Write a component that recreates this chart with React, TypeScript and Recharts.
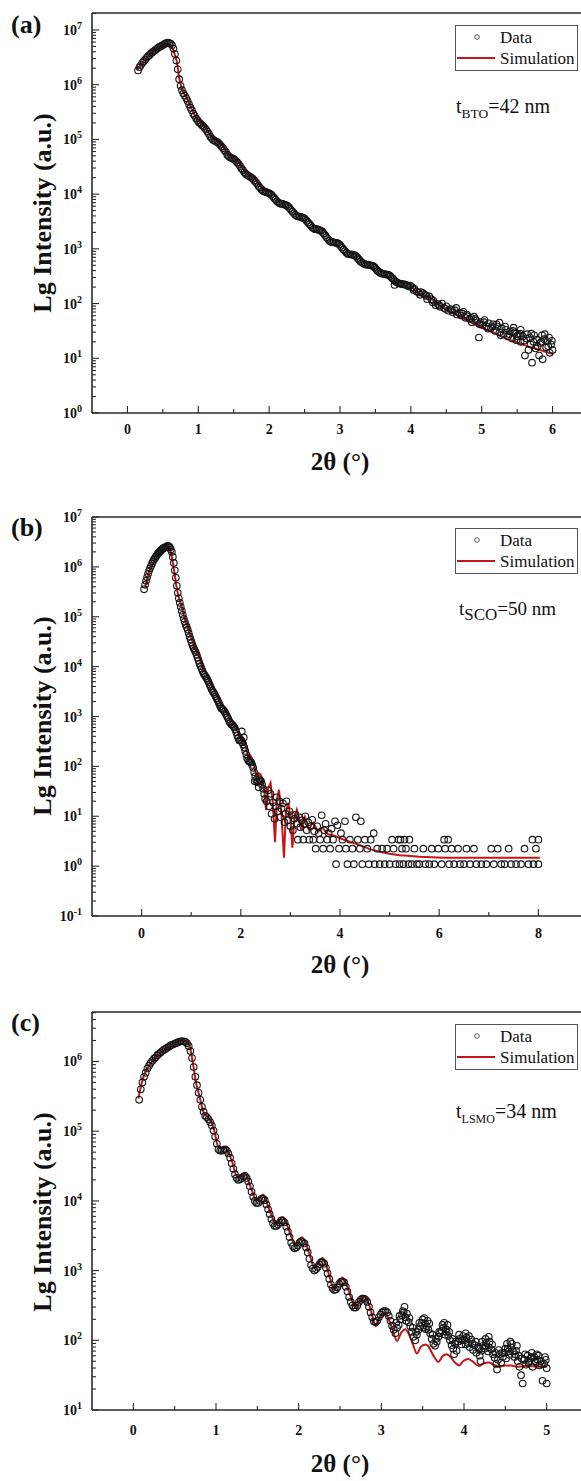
import React from 'react';
import { ComposedChart, Scatter, Line, XAxis, YAxis, ReferenceLine } from 'recharts';

type Pt = [number, number];

const FONT = "'Liberation Serif', 'Times New Roman', Times, serif";
const AXIS = '#2a2a2a';
const RED = '#c81414';
const TXT: React.CSSProperties = { fontFamily: FONT };

// ---------- Panel (a): BTO, lg intensity vs 2theta ----------
const simA: Pt[] = [
  [0.14,6.27],[0.2,6.38],[0.28,6.5],[0.35,6.59],[0.42,6.66],[0.5,6.72],[0.56,6.75],[0.61,6.72],[0.65,6.62],[0.68,6.5],
  [0.7,6.4],[0.73,6.13],[0.76,5.96],[0.8,5.84],[0.84,5.75],[0.88,5.63],[0.92,5.52],[0.96,5.42],[1.02,5.32],[1.08,5.26],
  [1.14,5.14],[1.2,5.03],[1.26,4.98],[1.32,4.92],[1.38,4.81],[1.44,4.7],[1.5,4.65],[1.56,4.6],[1.62,4.48],[1.68,4.37],
  [1.74,4.32],[1.8,4.28],[1.86,4.17],[1.92,4.08],[1.98,4.06],[2.04,4.04],[2.1,3.95],[2.16,3.87],[2.22,3.86],[2.28,3.83],
  [2.34,3.74],[2.4,3.65],[2.46,3.63],[2.52,3.6],[2.58,3.51],[2.64,3.42],[2.7,3.4],[2.76,3.37],[2.82,3.28],[2.88,3.18],
  [2.94,3.16],[3.0,3.13],[3.06,3.05],[3.12,2.95],[3.18,2.93],[3.24,2.92],[3.3,2.84],[3.36,2.76],[3.42,2.75],[3.48,2.74],
  [3.54,2.66],[3.6,2.58],[3.66,2.57],[3.72,2.56],[3.78,2.48],[3.84,2.4],[3.9,2.39],[3.96,2.37],[4.02,2.29],[4.1,2.2],
  [4.18,2.16],[4.26,2.12],[4.34,2.03],[4.42,1.95],[4.5,1.9],[4.6,1.83],[4.7,1.75],[4.8,1.69],[4.9,1.62],[5.0,1.56],
  [5.1,1.5],[5.2,1.45],[5.3,1.39],[5.4,1.33],[5.5,1.29],[5.6,1.24],[5.7,1.2],[5.8,1.16],[5.9,1.12],[6.0,1.08],
];
const dataA: Pt[] = [
  [0.15,6.26],[0.19,6.36],[0.23,6.43],[0.27,6.49],[0.31,6.54],[0.35,6.59],[0.39,6.63],[0.43,6.67],[0.47,6.7],[0.51,6.73],
  [0.55,6.76],[0.59,6.76],[0.63,6.72],[0.67,6.56],[0.71,6.28],[0.75,5.98],[0.79,5.84],[0.83,5.75],[0.87,5.64],[0.91,5.53],
  [0.95,5.43],[0.99,5.35],[1.03,5.29],[1.07,5.24],[1.11,5.18],[1.15,5.1],[1.19,5.02],[1.23,4.98],[1.27,4.95],[1.31,4.9],
  [1.35,4.84],[1.39,4.77],[1.43,4.69],[1.47,4.66],[1.51,4.63],[1.55,4.58],[1.59,4.51],[1.63,4.44],[1.67,4.37],[1.71,4.33],
  [1.75,4.3],[1.79,4.25],[1.83,4.19],[1.87,4.12],[1.91,4.06],[1.95,4.04],[1.99,4.02],[2.03,3.99],[2.07,3.93],[2.11,3.87],
  [2.15,3.83],[2.19,3.82],[2.23,3.8],[2.27,3.77],[2.31,3.71],[2.35,3.65],[2.39,3.6],[2.43,3.59],[2.47,3.57],[2.51,3.54],
  [2.55,3.48],[2.59,3.42],[2.63,3.37],[2.67,3.36],[2.71,3.34],[2.75,3.31],[2.79,3.25],[2.83,3.18],[2.87,3.13],[2.91,3.12],
  [2.95,3.11],[2.99,3.08],[3.03,3.02],[3.07,2.96],[3.11,2.91],[3.15,2.9],[3.19,2.89],[3.23,2.86],[3.27,2.8],[3.31,2.75],
  [3.35,2.72],[3.39,2.71],[3.43,2.7],[3.47,2.68],[3.51,2.63],[3.55,2.58],[3.59,2.55],[3.63,2.54],[3.67,2.53],[3.71,2.5],
  [3.75,2.45],[3.77,2.34],[3.79,2.4],[3.83,2.37],[3.87,2.36],[3.91,2.35],[3.95,2.33],[3.99,2.33],[4.02,2.3],[4.05,2.27],
  [4.08,2.22],[4.11,2.2],[4.14,2.21],[4.17,2.19],[4.2,2.16],[4.23,2.08],[4.26,2.13],[4.29,2.08],[4.32,2.05],[4.35,1.97],
  [4.38,1.99],[4.41,1.94],[4.44,2.0],[4.47,1.92],[4.5,1.95],[4.53,1.87],[4.56,1.9],[4.59,1.84],[4.62,1.88],[4.65,1.8],
  [4.68,1.83],[4.71,1.78],[4.74,1.85],[4.77,1.74],[4.8,1.77],[4.83,1.72],[4.86,1.66],[4.89,1.76],[4.92,1.69],[4.96,1.38],
  [4.98,1.66],[5.01,1.61],[5.04,1.7],[5.07,1.58],[5.1,1.64],[5.13,1.55],[5.16,1.62],[5.19,1.5],[5.22,1.58],[5.25,1.47],
  [5.25,1.65],[5.28,1.55],[5.31,1.44],[5.34,1.52],[5.37,1.4],[5.4,1.49],[5.43,1.36],[5.45,1.56],[5.46,1.46],[5.49,1.33],
  [5.52,1.43],[5.55,1.3],[5.55,1.52],[5.58,1.4],[5.61,1.05],[5.63,1.36],[5.66,1.15],[5.68,1.38],[5.7,1.45],[5.71,0.92],
  [5.73,1.3],[5.76,1.18],[5.78,1.34],[5.81,1.05],[5.83,1.28],[5.85,1.42],[5.86,0.98],[5.88,1.35],[5.91,1.2],[5.93,1.31],
  [5.95,1.38],[5.96,1.1],[5.98,1.25],[6.0,1.15],
];
// second interleaved set of scan points
const dataA2: Pt[] = [
  [0.17,6.32],[0.21,6.4],[0.25,6.46],[0.29,6.52],[0.33,6.57],[0.37,6.61],[0.41,6.65],[0.45,6.69],[0.49,6.72],[0.53,6.75],
  [0.57,6.77],[0.61,6.75],[0.65,6.66],[0.69,6.44],[0.73,6.1],[0.77,5.9],[0.81,5.8],[0.85,5.7],[0.89,5.58],[0.93,5.47],
  [0.97,5.38],[1.01,5.31],[1.05,5.26],[1.09,5.21],[1.13,5.14],[1.17,5.05],[1.21,4.99],[1.25,4.96],[1.29,4.93],[1.33,4.87],
  [1.37,4.8],[1.41,4.72],[1.45,4.67],[1.49,4.65],[1.53,4.61],[1.57,4.55],[1.61,4.47],[1.65,4.4],[1.69,4.35],[1.73,4.32],
  [1.77,4.28],[1.81,4.22],[1.85,4.15],[1.89,4.09],[1.93,4.05],[1.97,4.03],[2.01,4.01],[2.05,3.96],[2.09,3.9],[2.13,3.85],
  [2.17,3.82],[2.21,3.81],[2.25,3.79],[2.29,3.74],[2.33,3.68],[2.37,3.62],[2.41,3.59],[2.45,3.58],[2.49,3.56],[2.53,3.51],
  [2.57,3.45],[2.61,3.39],[2.65,3.36],[2.69,3.35],[2.73,3.33],[2.77,3.28],[2.81,3.21],[2.85,3.15],[2.89,3.12],[2.93,3.11],
  [2.97,3.1],[3.01,3.05],[3.05,2.99],[3.09,2.93],[3.13,2.9],[3.17,2.89],[3.21,2.88],[3.25,2.83],[3.29,2.77],[3.33,2.73],
  [3.37,2.71],[3.41,2.7],[3.45,2.69],[3.49,2.66],[3.53,2.6],[3.57,2.56],[3.61,2.54],[3.65,2.53],[3.69,2.52],[3.73,2.47],
  [3.77,2.42],[3.81,2.38],[3.85,2.36],[3.89,2.35],[3.93,2.34],[3.97,2.31],
  [4.04,2.25],[4.13,2.16],[4.22,2.14],[4.31,2.02],[4.4,1.97],[4.49,1.9],[4.58,1.88],[4.64,1.92],[4.72,1.82],[4.79,1.8],
  [4.85,1.74],[4.91,1.72],[4.97,1.62],[5.03,1.66],[5.09,1.54],[5.15,1.58],[5.21,1.62],[5.27,1.42],[5.33,1.58],[5.39,1.44],
  [5.44,1.5],[5.5,1.4],[5.54,1.45],[5.6,1.32],[5.64,1.44],[5.69,1.25],[5.74,1.42],[5.79,1.22],[5.84,1.3],[5.89,1.44],
  [5.94,1.22],[5.99,1.32],
];
const xTicksA = [0, 0.5, 1, 1.5, 2, 2.5, 3, 3.5, 4, 4.5, 5, 5.5, 6];
const decadesA = [0, 1, 2, 3, 4, 5, 6, 7];

// ---------- Panel (b): SCO ----------
const simB: Pt[] = [
  [0.07,5.58],[0.12,5.8],[0.17,5.95],[0.24,6.1],[0.31,6.22],[0.38,6.3],[0.44,6.36],[0.5,6.39],[0.54,6.4],[0.58,6.33],
  [0.62,6.15],[0.66,5.9],[0.7,5.62],[0.74,5.42],[0.78,5.29],[0.82,5.16],[0.86,4.99],[0.89,4.88],[0.92,4.84],[0.95,4.72],
  [0.98,4.61],[1.02,4.52],[1.05,4.44],[1.07,4.36],[1.1,4.33],[1.14,4.24],[1.18,4.12],[1.22,4.02],[1.25,3.92],[1.28,3.9],
  [1.32,3.83],[1.36,3.74],[1.4,3.66],[1.43,3.58],[1.46,3.56],[1.5,3.48],[1.54,3.38],[1.58,3.3],[1.61,3.22],[1.64,3.22],
  [1.68,3.16],[1.72,3.08],[1.76,3.0],[1.79,2.92],[1.82,2.93],[1.86,2.89],[1.9,2.82],[1.94,2.7],[1.97,2.58],[2.0,2.62],
  [2.03,2.6],[2.07,2.5],[2.11,2.36],[2.15,2.18],[2.18,2.24],[2.22,2.18],[2.26,2.06],[2.3,1.88],[2.33,1.7],[2.36,1.86],
  [2.4,1.84],[2.44,1.72],[2.48,1.45],[2.51,1.12],[2.55,1.55],[2.6,1.67],[2.64,1.35],[2.69,0.48],[2.73,1.35],[2.77,1.53],
  [2.82,1.05],[2.87,0.17],[2.91,1.1],[2.96,1.27],[3.0,0.95],[3.04,0.37],[3.08,0.95],[3.13,1.13],[3.18,0.95],[3.22,0.72],
  [3.26,0.92],[3.29,0.99],[3.33,0.88],[3.38,0.72],[3.42,0.82],[3.46,0.87],[3.51,0.78],[3.56,0.69],[3.6,0.75],[3.65,0.77],
  [3.7,0.7],[3.76,0.64],[3.82,0.63],[3.88,0.61],[4.0,0.56],[4.25,0.47],[4.45,0.4],[4.63,0.33],[4.8,0.29],[5.0,0.25],
  [5.2,0.22],[5.37,0.21],[5.6,0.19],[6.1,0.17],[7.0,0.17],[8.03,0.17],
];
const dataB: Pt[] = [
  [0.05,5.55],[0.09,5.72],[0.13,5.86],[0.17,5.97],[0.21,6.07],[0.25,6.15],[0.29,6.21],[0.33,6.27],[0.37,6.31],[0.41,6.35],
  [0.45,6.38],[0.49,6.4],[0.53,6.42],[0.57,6.39],[0.61,6.3],[0.65,6.08],[0.69,5.78],[0.73,5.48],[0.77,5.28],[0.81,5.12],
  [0.85,4.96],[0.89,4.84],[0.93,4.74],[0.97,4.6],[1.01,4.48],[1.05,4.37],[1.09,4.29],[1.13,4.18],[1.17,4.06],[1.21,3.96],
  [1.25,3.86],[1.29,3.8],[1.33,3.73],[1.37,3.64],[1.41,3.55],[1.45,3.48],[1.49,3.41],[1.53,3.33],[1.57,3.24],[1.61,3.16],
  [1.65,3.13],[1.69,3.07],[1.73,2.99],[1.77,2.9],[1.81,2.84],[1.85,2.81],[1.89,2.74],[1.93,2.62],[1.97,2.52],[2.01,2.52],
  [2.02,2.7],[2.05,2.44],[2.06,2.58],[2.09,2.31],[2.13,2.16],[2.17,2.1],[2.21,2.08],[2.25,1.97],[2.28,1.7],[2.29,1.8],
  [2.33,1.68],[2.36,1.58],[2.37,1.74],[2.41,1.7],[2.45,1.55],[2.49,1.35],
  [2.52,1.3],[2.55,1.52],[2.57,1.2],[2.6,1.45],[2.62,1.05],[2.65,1.28],[2.68,0.95],[2.7,1.2],[2.72,1.38],[2.75,1.1],
  [2.78,1.3],[2.8,0.98],[2.82,1.15],[2.85,1.26],[2.88,0.88],[2.9,1.05],[2.92,1.3],[2.95,0.92],[2.98,1.1],[3.0,0.8],
  [3.02,1.02],[3.05,0.72],[3.08,0.95],[3.1,1.03],[3.13,0.85],[3.15,0.53],[3.18,0.98],[3.2,0.78],[3.23,0.92],[3.26,0.53],
  [3.28,0.85],[3.3,1.0],[3.33,0.72],[3.36,0.88],[3.38,0.53],[3.41,0.8],[3.44,0.93],[3.46,0.53],[3.48,0.7],[3.51,0.35],
  [3.54,0.8],[3.57,0.66],[3.6,0.53],[3.63,1.02],[3.66,0.35],[3.68,0.72],[3.71,0.85],[3.74,0.53],[3.77,0.66],[3.8,0.35],
  [3.83,0.75],[3.86,0.53],[3.9,0.9],[3.92,0.04],[3.95,0.82],[3.98,0.35],[4.02,0.66],[4.05,0.53],[4.1,0.9],[4.12,0.35],
  [4.15,0.04],[4.2,0.53],[4.25,0.35],[4.28,0.04],[4.32,0.98],[4.36,0.53],[4.4,0.35],[4.42,0.9],[4.45,0.04],[4.5,0.53],
  [4.55,0.35],[4.58,0.04],[4.62,0.53],[4.68,0.66],[4.7,0.04],[4.75,0.35],[4.8,0.04],[4.85,0.35],[4.9,0.04],[4.95,0.35],
  [5.0,0.04],[5.05,0.53],[5.08,0.35],[5.12,0.04],[5.18,0.53],[5.2,0.04],[5.22,0.53],[5.25,0.35],[5.28,0.04],[5.3,0.53],
  [5.33,0.35],[5.38,0.04],[5.4,0.53],[5.45,0.04],[5.5,0.35],[5.55,0.04],[5.6,0.04],[5.68,0.35],[5.72,0.04],[5.8,0.04],
  [5.85,0.35],[5.9,0.04],[5.98,0.35],[6.05,0.04],[6.1,0.53],[6.12,0.35],[6.18,0.53],[6.2,0.04],[6.25,0.35],[6.3,0.04],
  [6.38,0.35],[6.42,0.04],[6.5,0.04],[6.55,0.35],[6.62,0.04],[6.7,0.35],[6.75,0.04],[6.85,0.04],[6.95,0.04],[7.05,0.35],
  [7.1,0.04],[7.18,0.35],[7.25,0.04],[7.32,0.04],[7.4,0.35],[7.45,0.04],[7.55,0.04],[7.65,0.04],[7.72,0.35],[7.8,0.04],
  [7.88,0.53],[7.9,0.04],[7.95,0.35],[8.0,0.04],[8.0,0.53],
];
const dataB2: Pt[] = [
  [0.07,5.64],[0.11,5.79],[0.15,5.92],[0.19,6.02],[0.23,6.11],[0.27,6.18],[0.31,6.24],[0.35,6.29],[0.39,6.33],[0.43,6.37],
  [0.47,6.39],[0.51,6.41],[0.55,6.41],[0.59,6.35],[0.63,6.2],[0.67,5.93],[0.71,5.62],[0.75,5.37],[0.79,5.2],[0.83,5.04],
  [0.87,4.9],[0.91,4.79],[0.95,4.67],[0.99,4.54],[1.03,4.42],[1.07,4.33],[1.11,4.24],[1.15,4.12],[1.19,4.01],[1.23,3.91],
  [1.27,3.83],[1.31,3.77],[1.35,3.69],[1.39,3.6],[1.43,3.51],[1.47,3.45],[1.51,3.37],[1.55,3.29],[1.59,3.2],[1.63,3.15],
  [1.67,3.1],[1.71,3.03],[1.75,2.95],[1.79,2.87],[1.83,2.83],[1.87,2.78],[1.91,2.68],[1.95,2.57],[1.99,2.52],[2.03,2.48],
  [2.07,2.38],[2.11,2.24],[2.15,2.12],[2.19,2.09],[2.23,2.03],[2.27,1.88],[2.31,1.73],[2.35,1.7],[2.39,1.72],[2.43,1.63],
  [2.47,1.45],
];
const xTicksB = [0, 1, 2, 3, 4, 5, 6, 7, 8];
const decadesB = [-1, 0, 1, 2, 3, 4, 5, 6, 7];

// ---------- Panel (c): LSMO ----------
const simC: Pt[] = [
  [0.06,5.47],[0.09,5.63],[0.12,5.77],[0.16,5.88],[0.21,5.97],[0.27,6.06],[0.33,6.13],[0.39,6.18],[0.45,6.23],[0.52,6.27],
  [0.59,6.3],[0.65,6.28],[0.69,6.18],[0.72,5.98],[0.75,5.75],[0.8,5.5],[0.85,5.27],[0.91,5.19],[0.97,5.05],[1.03,4.77],
  [1.07,4.76],[1.11,4.77],[1.14,4.72],[1.19,4.58],[1.26,4.34],[1.3,4.36],[1.35,4.4],[1.38,4.33],[1.43,4.16],[1.49,4.01],
  [1.53,4.05],[1.57,4.09],[1.6,4.02],[1.66,3.83],[1.73,3.67],[1.77,3.73],[1.81,3.77],[1.84,3.71],[1.9,3.52],[1.96,3.36],
  [2.0,3.44],[2.04,3.48],[2.07,3.43],[2.13,3.24],[2.19,3.04],[2.24,3.13],[2.29,3.18],[2.32,3.12],[2.37,2.93],[2.43,2.73],
  [2.48,2.84],[2.53,2.9],[2.56,2.85],[2.62,2.66],[2.69,2.46],[2.74,2.58],[2.8,2.63],[2.83,2.58],[2.88,2.4],[2.93,2.2],
  [2.98,2.33],[3.04,2.39],[3.07,2.35],[3.13,2.17],[3.19,1.99],[3.24,2.11],[3.29,2.16],[3.32,2.12],[3.38,1.95],[3.43,1.81],
  [3.48,1.91],[3.54,1.94],[3.57,1.91],[3.63,1.78],[3.69,1.69],[3.74,1.77],[3.79,1.8],[3.83,1.77],[3.89,1.68],[3.94,1.64],
  [3.99,1.7],[4.05,1.73],[4.1,1.7],[4.18,1.63],[4.24,1.67],[4.3,1.68],[4.36,1.65],[4.43,1.62],[4.5,1.64],[4.57,1.64],
  [4.65,1.62],[4.72,1.63],[4.8,1.63],[4.9,1.62],[5.0,1.62],
];
const dataC: Pt[] = [
  [0.07,5.45],[0.11,5.7],[0.15,5.84],[0.19,5.94],[0.23,6.01],[0.27,6.06],[0.31,6.11],[0.35,6.15],[0.39,6.18],[0.43,6.21],
  [0.47,6.24],[0.51,6.26],[0.55,6.28],[0.59,6.29],[0.63,6.28],[0.67,6.22],[0.71,6.05],[0.75,5.78],[0.79,5.55],[0.83,5.35],
  [0.87,5.22],[0.91,5.17],[0.95,5.08],[0.99,4.92],[1.03,4.74],[1.07,4.72],[1.11,4.74],[1.15,4.68],[1.19,4.54],[1.23,4.38],
  [1.27,4.3],[1.31,4.33],[1.35,4.36],[1.39,4.28],[1.43,4.13],[1.47,4.0],[1.51,3.97],[1.55,4.03],[1.59,4.01],[1.63,3.88],
  [1.67,3.74],[1.71,3.64],[1.75,3.66],[1.79,3.72],[1.83,3.69],[1.87,3.56],[1.91,3.4],[1.95,3.32],[1.99,3.36],[2.03,3.42],
  [2.07,3.39],[2.11,3.26],[2.15,3.08],[2.19,3.0],[2.23,3.05],[2.27,3.12],[2.31,3.1],[2.35,2.96],[2.39,2.8],[2.43,2.72],
  [2.47,2.76],[2.51,2.84],[2.55,2.83],[2.59,2.7],[2.63,2.55],[2.67,2.47],[2.71,2.5],[2.75,2.58],[2.79,2.6],[2.83,2.55],
  [2.87,2.4],[2.91,2.27],[2.95,2.28],[2.99,2.37],[3.03,2.42],[3.07,2.4],[3.11,2.28],[3.15,2.15],[3.17,2.1],[3.19,2.18],
  [3.21,2.22],[3.23,2.3],[3.25,2.36],[3.27,2.4],[3.28,2.48],[3.29,2.33],[3.31,2.38],[3.33,2.26],[3.35,2.2],[3.37,2.12],
  [3.39,2.05],[3.41,2.0],[3.43,2.08],[3.45,2.15],[3.47,2.2],[3.49,2.25],[3.51,2.18],[3.52,2.32],[3.53,2.24],[3.55,2.2],
  [3.56,2.28],[3.57,2.15],[3.59,2.1],[3.61,2.02],[3.63,1.95],[3.65,1.92],[3.67,1.98],[3.69,2.05],[3.71,2.1],[3.73,2.14],
  [3.75,2.18],[3.76,2.25],[3.77,2.08],[3.79,2.12],[3.8,2.22],[3.81,2.06],[3.83,2.0],[3.85,1.93],[3.87,1.88],[3.88,1.8],
  [3.89,1.95],[3.91,1.85],[3.93,1.98],[3.95,2.02],[3.97,1.94],[3.99,2.06],[4.01,2.0],[4.02,2.1],[4.03,2.04],[4.05,1.96],
  [4.07,1.9],[4.09,2.01],[4.11,1.86],[4.13,1.93],[4.15,1.82],[4.17,1.9],[4.19,1.78],[4.2,1.7],[4.21,1.85],[4.23,1.92],
  [4.25,1.88],[4.26,2.02],[4.27,1.96],[4.29,1.84],[4.3,2.05],[4.31,1.98],[4.33,1.87],[4.35,1.8],[4.37,1.75],[4.39,1.66],
  [4.4,1.58],[4.41,1.72],[4.43,1.8],[4.45,1.68],[4.47,1.76],[4.49,1.82],[4.51,1.74],[4.52,1.95],[4.53,1.88],[4.55,1.79],
  [4.56,1.98],[4.57,1.9],[4.59,1.84],[4.61,1.76],[4.63,1.85],[4.64,1.92],[4.65,1.7],[4.67,1.62],[4.69,1.5],[4.71,1.38],
  [4.73,1.72],[4.75,1.65],[4.77,1.78],[4.79,1.7],[4.81,1.74],[4.82,1.82],[4.83,1.62],[4.85,1.76],[4.87,1.68],[4.88,1.8],
  [4.89,1.72],[4.91,1.64],[4.93,1.7],[4.95,1.42],[4.97,1.66],[4.99,1.72],[5.0,1.38],[5.0,1.6],
];
const dataC2: Pt[] = [
  [0.09,5.6],[0.13,5.78],[0.17,5.9],[0.21,5.98],[0.25,6.04],[0.29,6.09],[0.33,6.13],[0.37,6.17],[0.41,6.2],[0.45,6.23],
  [0.49,6.25],[0.53,6.27],[0.57,6.29],[0.61,6.29],[0.65,6.26],[0.69,6.15],[0.73,5.92],[0.77,5.66],[0.81,5.45],[0.85,5.28],
  [0.89,5.2],[0.93,5.13],[0.97,5.01],[1.01,4.82],[1.05,4.72],[1.09,4.73],[1.13,4.72],[1.17,4.62],[1.21,4.46],[1.25,4.33],
  [1.29,4.31],[1.33,4.35],[1.37,4.33],[1.41,4.21],[1.45,4.06],[1.49,3.97],[1.53,4.0],[1.57,4.03],[1.61,3.95],[1.65,3.81],
  [1.69,3.68],[1.73,3.64],[1.77,3.69],[1.81,3.71],[1.85,3.63],[1.89,3.48],[1.93,3.35],[1.97,3.33],[2.01,3.4],[2.05,3.41],
  [2.09,3.33],[2.13,3.17],[2.17,3.03],[2.21,3.02],[2.25,3.09],[2.29,3.12],[2.33,3.04],[2.37,2.88],[2.41,2.75],[2.45,2.73],
  [2.49,2.81],[2.53,2.84],[2.57,2.77],[2.61,2.62],[2.65,2.5],[2.69,2.47],[2.73,2.55],[2.77,2.6],[2.81,2.58],[2.85,2.48],
  [2.89,2.33],[2.93,2.26],[2.97,2.33],[3.01,2.4],[3.05,2.42],[3.09,2.35],[3.13,2.21],
  [3.18,2.25],[3.22,2.35],[3.26,2.42],[3.3,2.28],[3.34,2.32],[3.38,2.18],[3.42,2.12],[3.46,2.25],[3.5,2.3],[3.54,2.16],
  [3.58,2.24],[3.62,2.08],[3.66,2.02],[3.7,2.12],[3.74,2.22],[3.78,2.16],[3.82,2.12],[3.86,2.02],[3.9,1.98],[3.94,2.08],
  [3.98,2.0],[4.02,1.94],[4.06,2.06],[4.1,1.95],[4.14,1.98],[4.18,1.88],[4.22,1.98],[4.26,1.92],[4.3,1.9],[4.34,1.94],
  [4.38,1.82],[4.42,1.86],[4.46,1.82],[4.5,1.88],[4.54,1.84],[4.58,1.95],[4.62,1.8],[4.66,1.78],[4.7,1.74],[4.74,1.8],
  [4.78,1.68],[4.82,1.76],[4.86,1.7],[4.9,1.78],[4.94,1.66],[4.98,1.76],
];
const xTicksC = [0, 0.5, 1, 1.5, 2, 2.5, 3, 3.5, 4, 4.5, 5];
const decadesC = [1, 2, 3, 4, 5, 6];

// ---------- helpers ----------
function logTicks(decades: number[], min: number, max: number): number[] {
  const out: number[] = [];
  for (const d of decades) {
    for (let k = 1; k <= 9; k++) {
      const v = d + Math.log10(k);
      if (v >= min - 1e-9 && v <= max + 1e-9) out.push(v);
    }
  }
  return out;
}

const toRows = (pts: Pt[]) => pts.map(([x, y]) => ({ x, y }));

const YTick = (props: any) => {
  const { x, y, payload } = props;
  const v: number = payload.value;
  const major = Math.abs(v - Math.round(v)) < 1e-6;
  return (
    <g>
      <line x1={x} y1={y} x2={x + (major ? 7 : 4)} y2={y} stroke={AXIS} strokeWidth={1.1} />
      {major && (
        <text x={x - 10} y={y + 5} textAnchor="end" style={TXT} fontWeight="bold" fontSize={14} fill="#111">
          10<tspan dy={-6} fontSize={10}>{String(Math.round(v))}</tspan>
        </text>
      )}
    </g>
  );
};

const makeXTick = (step: number, labelOffset: number) => (props: any) => {
  const { x, y, payload } = props;
  const v: number = payload.value;
  const major = Math.abs(v / step - Math.round(v / step)) < 1e-6;
  return (
    <g>
      <line x1={x} y1={y} x2={x} y2={y - (major ? 7 : 4)} stroke={AXIS} strokeWidth={1.1} />
      {major && (
        <text x={x} y={y + labelOffset} textAnchor="middle" style={TXT} fontWeight="bold" fontSize={14} fill="#111">
          {String(v)}
        </text>
      )}
    </g>
  );
};

const circleShape = (p: any) => (
  <circle cx={p.cx} cy={p.cy} r={3.3} fill="none" stroke="#151515" strokeWidth={1.1} />
);

interface PanelProps {
  top: number;
  height: number;
  marginTop: number;
  xAxisH: number;
  xDomain: [number, number];
  xTicks: number[];
  xMajorStep: number;
  xLabelOffset: number;
  yDomain: [number, number];
  decades: number[];
  sim: Pt[];
  data: Pt[];
  lineType: 'linear' | 'monotone';
}

const Panel = (p: PanelProps) => {
  const yTicks = logTicks(p.decades, p.yDomain[0], p.yDomain[1]);
  return (
    <div style={{ position: 'absolute', left: 0, top: p.top, width: 600, height: p.height }}>
      <ComposedChart width={600} height={p.height} margin={{ top: p.marginTop, right: 12, bottom: 0, left: 0 }}>
        <XAxis
          type="number"
          dataKey="x"
          domain={p.xDomain}
          allowDataOverflow
          ticks={p.xTicks}
          interval={0}
          tickLine={false}
          tickSize={0}
          tickMargin={0}
          tick={makeXTick(p.xMajorStep, p.xLabelOffset)}
          axisLine={{ stroke: AXIS, strokeWidth: 1.6 }}
          height={p.xAxisH}
        />
        <YAxis
          type="number"
          dataKey="y"
          domain={p.yDomain}
          allowDataOverflow
          ticks={yTicks}
          interval={0}
          tickLine={false}
          tickSize={0}
          tickMargin={0}
          tick={YTick}
          axisLine={{ stroke: AXIS, strokeWidth: 1.6 }}
          width={92}
        />
        <ReferenceLine y={p.yDomain[1]} stroke={AXIS} strokeWidth={1.6} />
        <Scatter data={toRows(p.data)} dataKey="y" shape={circleShape} isAnimationActive={false} />
        <Line
          data={toRows(p.sim)}
          dataKey="y"
          type={p.lineType}
          stroke={RED}
          strokeWidth={2}
          dot={false}
          activeDot={false}
          isAnimationActive={false}
        />
      </ComposedChart>
    </div>
  );
};

const LegendBox = ({ top }: { top: number }) => (
  <g>
    <rect x={455.5} y={top + 0.5} width={122} height={45} fill="#fff" stroke="#555" strokeWidth={1} />
    <circle cx={477} cy={top + 12} r={2.3} fill="none" stroke="#444" strokeWidth={0.9} />
    <text x={500} y={top + 18} style={TXT} fontSize={17} fill="#111">Data</text>
    <line x1={457} x2={495} y1={top + 33} y2={top + 33} stroke={RED} strokeWidth={2} />
    <text x={500} y={top + 39} style={TXT} fontSize={17} fill="#111">Simulation</text>
  </g>
);

const YTitle = ({ cy }: { cy: number }) => (
  <text
    x={51}
    y={cy}
    transform={`rotate(-90 51 ${cy})`}
    textAnchor="middle"
    style={TXT}
    fontWeight="bold"
    fontSize={26}
    fill="#111"
  >
    Lg Intensity (a.u.)
  </text>
);

const XTitle = ({ y }: { y: number }) => (
  <text x={340} y={y} textAnchor="middle" style={TXT} fontWeight="bold" fontSize={25} fill="#111">
    2θ (°)
  </text>
);

const PanelLabel = ({ y, label }: { y: number; label: string }) => (
  <text x={11} y={y} style={TXT} fontWeight="bold" fontSize={26} fill="#111">{label}</text>
);

export default function App() {
  return (
    <div style={{ position: 'absolute', left: 0, top: 0, width: 581, height: 1481, overflow: 'hidden', background: '#fff', fontFamily: FONT }}>
      <Panel
        top={0} height={480} marginTop={13} xAxisH={67}
        xDomain={[-0.5, 6.5]} xTicks={xTicksA} xMajorStep={1} xLabelOffset={21}
        yDomain={[0, 7.31]} decades={decadesA} sim={simA} data={[...dataA, ...dataA2]} lineType="monotone"
      />
      <Panel
        top={480} height={500} marginTop={37} xAxisH={64}
        xDomain={[-1, 9]} xTicks={xTicksB} xMajorStep={2} xLabelOffset={22}
        yDomain={[-1, 7]} decades={decadesB} sim={simB} data={[...dataB, ...dataB2]} lineType="linear"
      />
      <Panel
        top={960} height={521} marginTop={52} xAxisH={71}
        xDomain={[-0.5, 5.5]} xTicks={xTicksC} xMajorStep={1} xLabelOffset={25}
        yDomain={[1, 6.71]} decades={decadesC} sim={simC} data={[...dataC, ...dataC2]} lineType="monotone"
      />
      <svg width={581} height={1481} style={{ position: 'absolute', left: 0, top: 0, pointerEvents: 'none' }}>
        <PanelLabel y={33} label="(a)" />
        <PanelLabel y={536} label="(b)" />
        <PanelLabel y={1031} label="(c)" />

        <YTitle cy={213} />
        <YTitle cy={716} />
        <YTitle cy={1212} />

        <XTitle y={470} />
        <XTitle y={973} />
        <XTitle y={1472} />

        <LegendBox top={25} />
        <LegendBox top={528} />
        <LegendBox top={1024} />

        <text x={456} y={113} style={TXT} fontSize={20} fill="#111">
          t<tspan dy={5} fontSize={13.5}>BTO</tspan><tspan dy={-5}>=42 nm</tspan>
        </text>
        <text x={459} y={615} style={TXT} fontSize={19} fill="#111">
          t<tspan dy={5} fontSize={17}>SCO</tspan><tspan dy={-5}>=50 nm</tspan>
        </text>
        <text x={456} y={1118} style={TXT} fontSize={20} fill="#111">
          t<tspan dy={5} fontSize={12}>LSMO</tspan><tspan dy={-5}>=34 nm</tspan>
        </text>
      </svg>
    </div>
  );
}
